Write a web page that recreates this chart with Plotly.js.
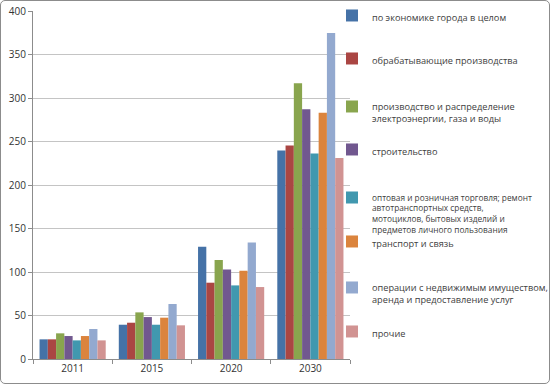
<!DOCTYPE html>
<html>
<head>
<meta charset="utf-8">
<script src="https://cdn.plot.ly/plotly-3.0.1.min.js"></script>
<style>
  html, body { margin: 0; padding: 0; background: #fff; }
  #wrap { position: relative; width: 550px; height: 384px; }
  #chart { position: absolute; left: 0; top: 0; width: 550px; height: 384px; }
  #frame { position: absolute; left: 0; top: 0; width: 550px; height: 384px; box-sizing: border-box;
           border: 1px solid #8c8c8c; border-radius: 5px; pointer-events: none; }
</style>
</head>
<body>
<div id="wrap"><div id="chart"></div><div id="frame"></div></div>
<script>
// ---- data ----
const years = ['2011', '2015', '2020', '2030'];

const seriesNames = [
  'по экономике города в целом',
  'обрабатывающие производства',
  'производство и распределение<br>электроэнергии, газа и воды',
  'строительство',
  'оптовая и розничная торговля; ремонт<br>автотранспортных средств,<br>мотоциклов, бытовых изделий и<br>предметов личного пользования',
  'транспорт и связь',
  'операции с недвижимым имуществом,<br>аренда и предоставление услуг',
  'прочие'
];

const economyTotal   = [22.6, 39.4, 129.0, 239.7];
const manufacturing  = [22.6, 41.7, 87.7, 245.4];
const energy         = [29.5, 53.6, 113.7, 317.0];
const construction   = [26.4, 48.2, 103.0, 287.0];
const trade          = [21.4, 39.4, 84.6, 236.2];
const transport      = [26.4, 47.5, 101.5, 283.0];
const realEstate     = [34.5, 63.2, 134.0, 374.8];
const other          = [21.4, 38.7, 82.7, 230.9];

const seriesValues = [economyTotal, manufacturing, energy, construction, trade, transport, realEstate, other];

const colors = ['#4572A7', '#AA4643', '#89A54E', '#71588F', '#4198AF', '#DB843D', '#93A9CF', '#D19392'];

// legend top positions (px from top)
const legendTop = [3, 46, 94, 137, 185.5, 229, 275, 319];
const legendFontSize = [9.2, 9.2, 9.2, 9.2, 8.3, 9.2, 9.2, 9.2];

// ---- build ----
const W = 550, H = 384;
const traces = seriesNames.map((name, i) => ({
  type: 'bar',
  name: name,
  x: years,
  y: seriesValues[i],
  marker: { color: colors[i], line: { width: 0 } },
  legend: i === 0 ? 'legend' : 'legend' + (i + 1),
  hoverinfo: 'x+y+name'
}));

const layout = {
  width: W, height: H,
  margin: { l: 33, r: 200, t: 11, b: 25, autoexpand: false },
  paper_bgcolor: '#ffffff',
  plot_bgcolor: '#ffffff',
  barmode: 'group',
  bargap: 0.165,
  bargroupgap: 0,
  font: { family: 'Open Sans, sans-serif', size: 10, color: '#333333' },
  xaxis: {
    type: 'category',
    showline: true, linecolor: '#8c8c8c', linewidth: 1,
    ticks: 'outside', tickson: 'boundaries', ticklen: 4, tickcolor: '#8c8c8c',
    showgrid: false, zeroline: false,
    tickfont: { family: 'Open Sans, sans-serif', size: 10, color: '#333333' }
  },
  yaxis: {
    range: [0, 400], dtick: 50,
    showline: true, linecolor: '#8c8c8c', linewidth: 1,
    ticks: 'outside', ticklen: 4, tickcolor: '#8c8c8c',
    showgrid: true, gridcolor: '#c4c4c4', gridwidth: 1,
    zeroline: false,
    tickfont: { family: 'Open Sans, sans-serif', size: 10, color: '#333333' }
  },
  showlegend: true
};

legendTop.forEach((top, i) => {
  const key = i === 0 ? 'legend' : 'legend' + (i + 1);
  layout[key] = {
    xref: 'container', yref: 'container',
    x: 332 / W, xanchor: 'left',
    y: 1 - top / H, yanchor: 'top',
    valign: 'top',
    bgcolor: 'rgba(0,0,0,0)',
    borderwidth: 0,
    itemwidth: 30,
    font: { family: 'Open Sans, sans-serif', size: legendFontSize[i], color: '#404040' }
  };
});

Plotly.newPlot('chart', traces, layout, { staticPlot: true, displayModeBar: false });
</script>
</body>
</html>
